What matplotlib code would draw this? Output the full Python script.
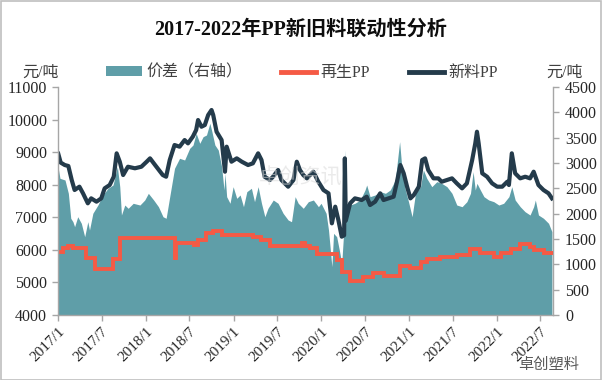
import matplotlib
matplotlib.use("Agg")
import matplotlib.pyplot as plt
import matplotlib.dates as mdates
from matplotlib.patches import Patch, Rectangle
from matplotlib.lines import Line2D
from matplotlib.ticker import FuncFormatter, MultipleLocator
import pandas as pd

plt.rcParams['font.family'] = ['Liberation Serif', 'Noto Sans CJK SC']

title = "2017-2022年PP新旧料联动性分析"
unit_label = "元/吨"
legend_labels = ["价差（右轴）", "再生PP", "新料PP"]

# 新料PP (left axis)
new_dates = ["2017-01-01", "2017-01-11", "2017-01-28", "2017-02-12", "2017-02-26", "2017-03-10",
             "2017-03-30", "2017-04-14", "2017-05-04", "2017-05-18", "2017-06-09", "2017-06-29",
             "2017-07-13", "2017-08-03", "2017-08-20", "2017-09-01", "2017-09-14", "2017-09-28",
             "2017-10-18", "2017-11-16", "2017-12-13", "2018-01-04", "2018-01-18", "2018-02-08",
             "2018-03-12", "2018-03-26", "2018-04-10", "2018-04-30", "2018-05-21", "2018-06-11",
             "2018-06-25", "2018-07-15", "2018-07-29", "2018-08-06", "2018-08-20", "2018-09-03",
             "2018-09-17", "2018-10-01", "2018-10-08", "2018-10-22", "2018-11-12", "2018-11-26",
             "2018-12-03", "2018-12-23", "2019-01-14", "2019-02-04", "2019-03-02", "2019-03-22",
             "2019-04-13", "2019-04-27", "2019-05-10", "2019-06-01", "2019-06-14", "2019-07-05",
             "2019-07-19", "2019-08-16", "2019-09-07", "2019-09-21", "2019-10-04", "2019-10-18",
             "2019-11-02", "2019-11-29", "2019-12-19", "2020-01-10", "2020-01-31", "2020-02-14",
             "2020-02-28", "2020-03-12", "2020-03-26", "2020-04-05", "2020-04-08", "2020-04-12",
             "2020-04-30", "2020-05-20", "2020-06-17", "2020-07-08", "2020-07-22", "2020-08-12",
             "2020-09-02", "2020-09-16", "2020-10-07", "2020-10-28", "2020-11-11", "2020-11-25",
             "2020-12-09", "2020-12-23", "2021-01-06", "2021-01-20", "2021-02-10", "2021-02-24",
             "2021-03-08", "2021-03-21", "2021-04-12", "2021-05-02", "2021-05-16", "2021-06-07",
             "2021-06-28", "2021-07-18", "2021-08-09", "2021-08-29", "2021-09-20", "2021-10-03",
             "2021-10-10", "2021-10-17", "2021-11-01", "2021-11-21", "2021-12-12", "2022-01-02",
             "2022-01-23", "2022-02-13", "2022-02-20", "2022-03-04", "2022-03-18", "2022-04-08",
             "2022-04-29", "2022-05-19", "2022-06-03", "2022-06-23", "2022-07-14", "2022-08-04",
             "2022-08-18"]
new_vals = [8950, 8680, 8605, 8575, 8145, 7838,
            7940, 7736, 7430, 7582, 7480, 7582,
            7889, 7991, 8246, 8964, 8707, 8298,
            8553, 8505, 8553, 8707, 8810, 8605,
            8298, 8246, 8759, 9219, 9168, 9372,
            9270, 9475, 9680, 9987, 9781, 9833,
            10140, 10294, 10140, 9627, 9372, 8400,
            9168, 8707, 8810, 8707, 8605, 8657,
            8964, 8759, 8246, 8145, 8246, 8452,
            8145, 7940, 8145, 8707, 8452, 8298,
            8196, 8400, 8100, 7838, 7736, 6815,
            7326, 6917, 6405, 6450, 8810, 6900,
            7430, 7582, 7531, 7633, 7377, 7480,
            7736, 7531, 7582, 7633, 8092, 8605,
            8350, 7940, 7582, 7684, 7940, 8759,
            8810, 8452, 8196, 8196, 8092, 8145,
            8196, 8043, 7889, 8043, 8759, 9270,
            9627, 9270, 8350, 8246, 8043, 7940,
            7940, 8092, 7991, 8964, 8350, 8196,
            8246, 8196, 8400, 7991, 7838, 7736,
            7582]

# 再生PP (left axis, step-like)
rec_dates = ["2017-01-01", "2017-01-21", "2017-02-12", "2017-03-02", "2017-04-27", "2017-06-01",
             "2017-08-16", "2017-09-14", "2018-04-30", "2018-05-07", "2018-07-22", "2018-08-06",
             "2018-09-10", "2018-10-08", "2018-11-12", "2019-03-22", "2019-04-27", "2019-06-01",
             "2019-10-11", "2019-10-25", "2019-11-15", "2019-12-13", "2020-03-05", "2020-03-26",
             "2020-04-30", "2020-06-24", "2020-08-05", "2020-09-16", "2020-11-25", "2021-01-06",
             "2021-02-17", "2021-03-15", "2021-05-09", "2021-07-18", "2021-09-12", "2021-10-24",
             "2021-12-19", "2022-01-16", "2022-02-27", "2022-04-08", "2022-05-19", "2022-06-03",
             "2022-07-14", "2022-08-18"]
rec_vals = [5950, 6047, 6118, 6067, 5740, 5403,
            5710, 6355, 5740, 6201, 6150, 6303,
            6508, 6590, 6456, 6405, 6303, 6118,
            6220, 6118, 6047, 5873, 5689, 5330,
            5054, 5157, 5279, 5207, 5504, 5433,
            5637, 5710, 5790, 5842, 6016, 5893,
            5770, 5913, 6016, 6180, 6097, 5996,
            5913, 5913]

# 价差 (right axis)
diff_dates = ["2017-01-01", "2017-01-08", "2017-01-29", "2017-02-12", "2017-02-22", "2017-03-03",
              "2017-03-10", "2017-03-23", "2017-04-07", "2017-04-21", "2017-05-04", "2017-05-11",
              "2017-05-25", "2017-06-15", "2017-07-06", "2017-07-27", "2017-08-17", "2017-09-04",
              "2017-09-14", "2017-09-21", "2017-10-05", "2017-10-19", "2017-11-09", "2017-12-07",
              "2017-12-27", "2018-01-11", "2018-02-02", "2018-02-22", "2018-03-13", "2018-03-26",
              "2018-04-10", "2018-04-30", "2018-05-21", "2018-06-11", "2018-07-02", "2018-07-16",
              "2018-07-29", "2018-08-13", "2018-08-27", "2018-09-10", "2018-09-24", "2018-10-01",
              "2018-10-15", "2018-10-29", "2018-11-12", "2018-11-22", "2018-11-26", "2018-12-03",
              "2018-12-17", "2018-12-30", "2019-01-14", "2019-01-28", "2019-02-11", "2019-02-25",
              "2019-03-16", "2019-03-29", "2019-04-13", "2019-04-27", "2019-05-11", "2019-05-24",
              "2019-06-15", "2019-07-05", "2019-07-26", "2019-08-16", "2019-08-30", "2019-09-14",
              "2019-09-27", "2019-10-18", "2019-11-08", "2019-11-29", "2019-12-20", "2019-12-31",
              "2020-01-21", "2020-01-31", "2020-02-14", "2020-02-21", "2020-03-05", "2020-03-16",
              "2020-03-26", "2020-04-02", "2020-04-09", "2020-04-16", "2020-04-30", "2020-05-20",
              "2020-06-11", "2020-07-01", "2020-07-08", "2020-07-22", "2020-08-12", "2020-09-03",
              "2020-09-24", "2020-10-14", "2020-11-04", "2020-11-22", "2020-12-02", "2020-12-16",
              "2020-12-29", "2021-01-13", "2021-01-27", "2021-02-17", "2021-03-01", "2021-03-15",
              "2021-04-05", "2021-04-26", "2021-05-16", "2021-06-07", "2021-06-28", "2021-07-18",
              "2021-08-09", "2021-08-29", "2021-09-13", "2021-09-24", "2021-10-03", "2021-10-10",
              "2021-10-24", "2021-11-08", "2021-11-28", "2021-12-19", "2022-01-09", "2022-01-29",
              "2022-02-20", "2022-03-04", "2022-03-18", "2022-04-08", "2022-04-28", "2022-05-19",
              "2022-06-03", "2022-06-10", "2022-06-23", "2022-07-14", "2022-08-04", "2022-08-18"]
diff_vals = [2896, 2698, 2665, 2402, 1909, 1842,
             1743, 1940, 1810, 1546, 1842, 1678,
             2008, 2171, 2369, 2501, 2566, 2928,
             2533, 1974, 2171, 2106, 2205, 2171,
             2270, 2402, 2270, 2138, 1940, 1909,
             2336, 2896, 3093, 3060, 3290, 3356,
             3586, 3389, 3520, 3553, 3783, 3652,
             3356, 3257, 2928, 2468, 2796, 2336,
             2205, 2533, 2303, 2369, 2138, 2435,
             2501, 2237, 2533, 2205, 1940, 2106,
             2270, 2205, 2008, 1875, 1842, 2336,
             2205, 2106, 2237, 2270, 2138, 2205,
             2008, 1678, 954, 1612, 1546, 1283,
             1020, 1546, 3257, 1940, 2171, 2205,
             2270, 2468, 2566, 2336, 2369, 2435,
             2402, 2468, 2665, 3421, 2862, 2468,
             2237, 1940, 2402, 2533, 2862, 2698,
             2533, 2632, 2599, 2533, 2402, 2171,
             2138, 2237, 2402, 2829, 2468, 2599,
             2468, 2336, 2270, 2237, 2171, 2205,
             2336, 2533, 2270, 2138, 2040, 1974,
             2138, 2270, 1974, 1909, 1810, 1645]

TEAL = "#5F9EA8"
RED = "#F55A45"
NAVY = "#243B4B"
GRAY = "#A6A6A6"

fig = plt.figure(figsize=(6.02, 3.80), dpi=100)
ax = fig.add_axes([0.0968, 0.171, 0.8212, 0.600])
ax2 = ax.twinx()

ax2.fill_between(pd.to_datetime(diff_dates), 0, diff_vals, color=TEAL, linewidth=0)
ax.plot(pd.to_datetime(rec_dates), rec_vals, color=RED, lw=2.8, drawstyle="steps-post",
        solid_joinstyle="miter")
ax.plot(pd.to_datetime(new_dates), new_vals, color=NAVY, lw=3.0, solid_joinstyle="round")

ax.set_zorder(ax2.get_zorder() + 1)
ax.patch.set_visible(False)

ax.set_ylim(4000, 11000)
ax2.set_ylim(0, 4500)
ax.yaxis.set_major_locator(MultipleLocator(1000))
ax2.yaxis.set_major_locator(MultipleLocator(500))
ax.set_xlim(mdates.date2num(pd.Timestamp("2017-01-01")), mdates.date2num(pd.Timestamp("2022-08-21")))

ax.xaxis.set_major_locator(mdates.MonthLocator(bymonth=[1, 7]))
ax.xaxis.set_major_formatter(FuncFormatter(lambda v, p: f"{mdates.num2date(v).year}/{mdates.num2date(v).month}"))

for a in (ax, ax2):
    for s in a.spines.values():
        s.set_color(GRAY)
        s.set_linewidth(1.0)
    a.spines["top"].set_visible(False)
ax.spines["right"].set_visible(False)
ax2.spines["left"].set_visible(False)
ax2.spines["bottom"].set_visible(False)

ax.tick_params(axis="y", direction="out", length=4, width=1, color=GRAY, pad=4, labelsize=11.5, labelcolor="#262626")
ax2.tick_params(axis="y", direction="out", length=4, width=1, color=GRAY, pad=5, labelsize=11.5, labelcolor="#262626")
ax.tick_params(axis="x", direction="out", length=4, width=1, color=GRAY, pad=3, labelsize=11, labelcolor="#262626")
for lbl in ax.get_xticklabels():
    lbl.set_rotation(45)
    lbl.set_ha("right")
    lbl.set_rotation_mode("anchor")

fig.text(0.5, 0.923, title, ha="center", va="center", fontsize=14.5, fontweight="bold", color="#0D0D0D")
fig.text(0.068, 0.808, unit_label, ha="center", va="center", fontsize=11.5, color="#404040")
fig.text(0.937, 0.808, unit_label, ha="center", va="center", fontsize=11.5, color="#404040")

handles = [Patch(facecolor=TEAL, edgecolor="none"),
           Line2D([], [], color=RED, lw=3.5),
           Line2D([], [], color=NAVY, lw=3.5)]
fig.legend(handles, legend_labels, loc="center", bbox_to_anchor=(0.502, 0.808), ncol=3,
           frameon=False, fontsize=11.5, handlelength=2.2, handleheight=0.55, handletextpad=0.3,
           columnspacing=2.4, labelcolor="#404040")

# watermarks
fig.text(0.50, 0.53, "卓创资讯", ha="center", va="center", fontsize=15, color="#D9D9D9", alpha=0.55)
fig.text(0.912, 0.04, "卓创塑料", ha="center", va="center", fontsize=11, color="#595959")

fig.patches.append(Rectangle((0.001, 0.001), 0.997, 0.997, transform=fig.transFigure,
                             fill=False, edgecolor="#BFBFBF", linewidth=1.2))

fig.savefig("out.png", dpi=100)
